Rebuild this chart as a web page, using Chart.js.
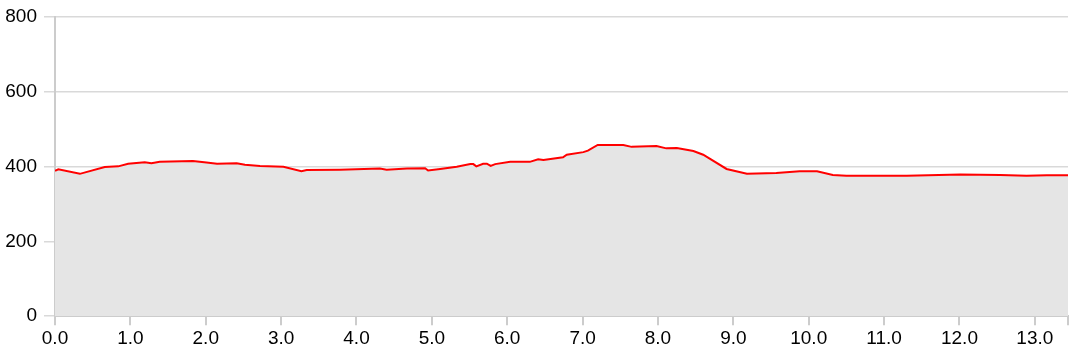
<!DOCTYPE html>
<html>
<head>
<meta charset="utf-8">
<script src="https://cdn.jsdelivr.net/npm/chart.js@4"></script>
<style>
html,body{margin:0;padding:0;background:#fff;}
canvas{display:block;}
</style>
</head>
<body>
<canvas id="c" width="1073" height="354"></canvas>
<script>
const distance = [0, 0.044, 0.33, 0.66, 0.84, 0.97, 1.19, 1.28, 1.39, 1.83, 2.01, 2.15, 2.41, 2.52, 2.72, 3.03, 3.27, 3.34, 3.78, 4.31, 4.40, 4.67, 4.91, 4.95, 5.11, 5.33, 5.51, 5.55, 5.59, 5.68, 5.73, 5.78, 5.84, 6.04, 6.30, 6.41, 6.48, 6.74, 6.79, 7.01, 7.07, 7.20, 7.54, 7.65, 7.98, 8.11, 8.25, 8.47, 8.60, 8.91, 9.18, 9.57, 9.88, 10.11, 10.32, 10.50, 11.30, 12.01, 12.54, 12.89, 13.16, 13.44];
const elevation = [388, 392, 380, 398, 400, 407, 411, 408, 412, 414, 410, 407, 408, 404, 401, 399, 387, 390, 391, 394, 391, 394, 395, 389, 393, 399, 406, 406, 400, 407, 407, 401, 406, 412, 412, 419, 417, 424, 431, 438, 442, 457, 457, 452, 454, 448, 449, 441, 431, 393, 380, 382, 387, 387, 377, 375, 375, 378, 377, 375, 376, 376];
const yTicks = [0, 200, 400, 600, 800];
const xTicks = [0, 1, 2, 3, 4, 5, 6, 7, 8, 9, 10, 11, 12, 13];
const xMax = 13.44;

const points = distance.map((d, i) => ({x: d, y: elevation[i]}));
const font = {family: 'Liberation Sans, Arial, sans-serif', size: 19};
const yFont = {family: 'Liberation Sans, Arial, sans-serif', size: 19, lineHeight: 1};

new Chart(document.getElementById('c'), {
  type: 'line',
  data: {
    datasets: [{
      data: points,
      borderColor: '#ff0000',
      borderWidth: 2,
      backgroundColor: '#e5e5e5',
      fill: 'origin',
      pointRadius: 0,
      tension: 0
    }]
  },
  options: {
    responsive: false,
    animation: false,
    layout: {padding: {top: 0, right: 5, left: 0, bottom: 2}},
    plugins: {legend: {display: false}, tooltip: {enabled: false}},
    scales: {
      x: {
        type: 'linear',
        min: 0,
        max: xMax,
        afterBuildTicks: s => { s.ticks = xTicks.map(v => ({value: v})).concat([{value: xMax}]); },
        grid: {drawOnChartArea: false, color: '#cccccc', tickLength: 9, lineWidth: 2},
        border: {color: '#cccccc', width: 2},
        ticks: {
          autoSkip: false,
          maxRotation: 0,
          color: '#000',
          font: font,
          padding: 2,
          callback: v => (xTicks.includes(v) ? v.toFixed(1) : '')
        }
      },
      y: {
        min: yTicks[0],
        max: yTicks[yTicks.length - 1],
        afterBuildTicks: s => { s.ticks = yTicks.map(v => ({value: v})); },
        afterFit: s => { s.width = 55; },
        grid: {color: '#d9d9d9', tickLength: 11, lineWidth: 1.5},
        border: {color: '#cccccc', width: 2},
        ticks: {color: '#000', font: yFont, padding: 7}
      }
    }
  }
});
</script>
</body>
</html>
